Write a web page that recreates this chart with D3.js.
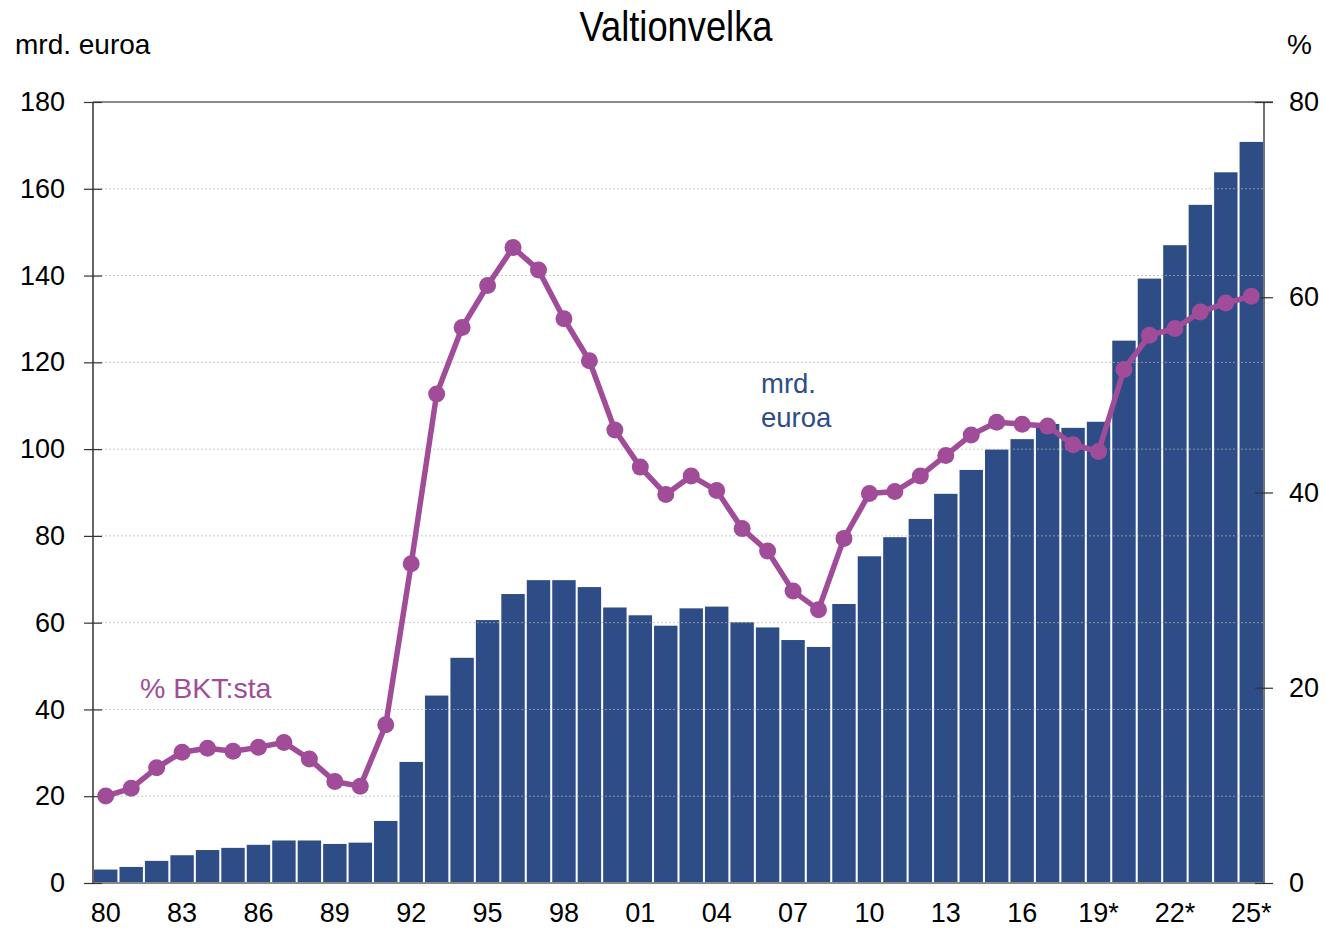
<!DOCTYPE html>
<html>
<head>
<meta charset="utf-8">
<script src="https://cdn.jsdelivr.net/npm/d3@7"></script>
<style>
  body { margin: 0; background: #fff; }
  svg { display: block; }
</style>
</head>
<body>
<div id="chart"></div>
<script>
// vuodet 1980-2025, * = ennuste
const years = d3.range(1980, 2026)
const yearLabels = years.map(y => {
  const s = String(y).slice(2)
  return y >= 2019 ? s + "*" : s
})

// valtionvelka, mrd. euroa
const debt = [
  3.1, 3.7, 5.1, 6.4, 7.6, 8.1, 8.8, 9.8, 9.8, 9.0,
  9.3, 14.3, 27.9, 43.2, 51.9, 60.6, 66.6, 69.8, 69.8, 68.2,
  63.5, 61.7, 59.3, 63.3, 63.7, 60.1, 58.9, 56.0, 54.4, 64.3,
  75.3, 79.7, 83.9, 89.7, 95.2, 99.9, 102.3, 105.8, 104.9, 106.3,
  125.0, 139.3, 147.0, 156.3, 163.8, 170.8
]

// % BKT:sta
const debtPct = [
  8.9, 9.7, 11.8, 13.4, 13.8, 13.5, 13.9, 14.4, 12.7, 10.4,
  9.9, 16.2, 32.7, 50.1, 56.9, 61.2, 65.1, 62.8, 57.8, 53.5,
  46.4, 42.6, 39.8, 41.7, 40.2, 36.3, 34.0, 29.9, 28.0, 35.3,
  39.9, 40.1, 41.7, 43.8, 45.9, 47.2, 47.0, 46.8, 44.9, 44.2,
  52.6, 56.1, 56.8, 58.5, 59.4, 60.1
]

const leftTicks = [0, 20, 40, 60, 80, 100, 120, 140, 160, 180]
const rightTicks = [0, 20, 40, 60, 80]

const width = 1325
const height = 930
const margin = {top: 102, right: 61, bottom: 47, left: 93}

const barColor = "#2e4d87"
const lineColor = "#a04c98"
const font = "'Liberation Sans', Arial, sans-serif"

const svg = d3.select("#chart").append("svg")
    .attr("width", width)
    .attr("height", height)
    .attr("font-family", font)

const x = d3.scaleBand()
    .domain(years)
    .range([margin.left, width - margin.right])
    .paddingInner(0.08)
    .paddingOuter(0.04)

const yL = d3.scaleLinear()
    .domain([0, 180])
    .range([height - margin.bottom, margin.top])

const yR = d3.scaleLinear()
    .domain([0, 80])
    .range([height - margin.bottom, margin.top])

const cx = d => x(d) + x.bandwidth() / 2

// palkit
svg.append("g")
  .selectAll("rect")
  .data(years)
  .join("rect")
    .attr("x", d => x(d))
    .attr("width", x.bandwidth())
    .attr("y", (d, i) => yL(debt[i]))
    .attr("height", (d, i) => yL(0) - yL(debt[i]))
    .attr("fill", barColor)

// apuviivat
svg.append("g")
  .selectAll("line")
  .data(leftTicks.filter(t => t > 0 && t < 180))
  .join("line")
    .attr("x1", margin.left)
    .attr("x2", width - margin.right)
    .attr("y1", d => yL(d))
    .attr("y2", d => yL(d))
    .attr("stroke", "#b4b4b4")
    .attr("stroke-opacity", 0.7)
    .attr("stroke-width", 1)
    .attr("stroke-dasharray", "2,2")

// ylä- ja alareuna
svg.append("line")
    .attr("x1", margin.left).attr("x2", width - margin.right + 9)
    .attr("y1", yL(180)).attr("y2", yL(180))
    .attr("stroke", "#8a8a8a").attr("stroke-width", 2)
svg.append("line")
    .attr("x1", margin.left).attr("x2", width - margin.right)
    .attr("y1", yL(0)).attr("y2", yL(0))
    .attr("stroke", "#8a8a8a").attr("stroke-width", 2)

// vasen akseli
svg.append("g")
    .attr("transform", `translate(${margin.left},0)`)
    .call(d3.axisLeft(yL).tickValues(leftTicks).tickSize(9).tickPadding(19))
    .call(g => g.select(".domain").attr("stroke", "#333").attr("stroke-width", 1.5).attr("d", `M0,${yL(0)}V${yL(180)}`))
    .call(g => g.selectAll(".tick line").attr("x1", 9).attr("stroke", "#333").attr("stroke-width", 1.2))
    .call(g => g.selectAll(".tick text")
        .attr("font-family", font).attr("font-size", 27).attr("fill", "#000"))

// oikea akseli
svg.append("g")
    .attr("transform", `translate(${width - margin.right},0)`)
    .call(d3.axisRight(yR).tickValues(rightTicks).tickSize(9).tickPadding(16))
    .call(g => g.select(".domain").attr("stroke", "#444").attr("stroke-width", 1.5).attr("d", `M0,${yR(0)}V${yR(80)}`))
    .call(g => g.selectAll(".tick line").attr("x1", -9).attr("stroke", "#333").attr("stroke-width", 1.2))
    .call(g => g.selectAll(".tick text")
        .attr("font-family", font).attr("font-size", 27).attr("fill", "#000"))

// x-akseli
svg.append("g")
    .attr("transform", `translate(0,${height - margin.bottom})`)
    .call(d3.axisBottom(x).tickValues(years.filter(y => (y - 1980) % 3 === 0))
        .tickSize(0).tickPadding(20)
        .tickFormat(d => yearLabels[years.indexOf(d)]))
    .call(g => g.select(".domain").remove())
    .call(g => g.selectAll(".tick text")
        .attr("font-family", font).attr("font-size", 27).attr("fill", "#000"))

// viiva
const line = d3.line()
    .x(d => cx(d))
    .y((d, i) => yR(debtPct[i]))

svg.append("path")
    .datum(years)
    .attr("fill", "none")
    .attr("stroke", lineColor)
    .attr("stroke-width", 5.5)
    .attr("stroke-linejoin", "round")
    .attr("d", line)

svg.append("g")
    .attr("fill", lineColor)
  .selectAll("circle")
  .data(years)
  .join("circle")
    .attr("cx", d => cx(d))
    .attr("cy", (d, i) => yR(debtPct[i]))
    .attr("r", 8.5)

// otsikko ja yksiköt
svg.append("text")
    .attr("x", 676).attr("y", 41)
    .attr("text-anchor", "middle")
    .attr("font-family", "'Liberation Sans Narrow', 'Arial Narrow', " + font)
    .attr("font-size", 42)
    .attr("textLength", 193)
    .attr("lengthAdjust", "spacingAndGlyphs")
    .attr("fill", "#000")
    .text("Valtionvelka")

svg.append("text")
    .attr("x", 15).attr("y", 54)
    .attr("font-size", 28)
    .attr("fill", "#000")
    .text("mrd. euroa")

svg.append("text")
    .attr("x", 1287).attr("y", 54)
    .attr("font-size", 28)
    .attr("fill", "#000")
    .text("%")

// sarjojen nimet
const lbl = svg.append("text")
    .attr("x", 761).attr("y", 393)
    .attr("font-size", 27.5)
    .attr("fill", barColor)
lbl.append("tspan").attr("x", 761).text("mrd.")
lbl.append("tspan").attr("x", 761).attr("dy", 34).text("euroa")

svg.append("text")
    .attr("x", 140).attr("y", 698)
    .attr("font-size", 28.5)
    .attr("fill", lineColor)
    .text("% BKT:sta")
</script>
</body>
</html>
